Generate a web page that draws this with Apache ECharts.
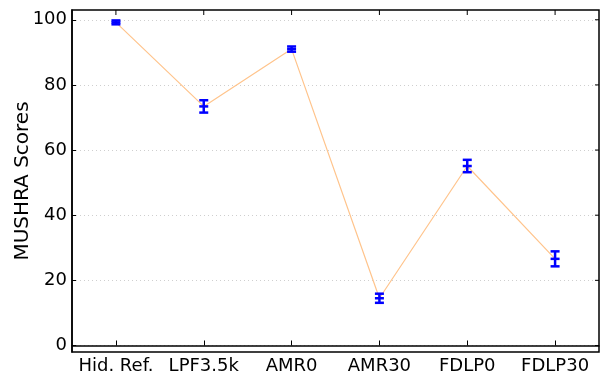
<!DOCTYPE html>
<html><head><meta charset="utf-8">
<script src="https://cdn.jsdelivr.net/npm/echarts@6/dist/echarts.min.js"></script>
<style>html,body{margin:0;padding:0;background:#fff}#c{width:604px;height:376px}</style>
</head><body><div id="c"></div>
<script>
var categories = ['Hid. Ref.', 'LPF3.5k', 'AMR0', 'AMR30', 'FDLP0', 'FDLP30'];
var means = [99.2, 73.4, 91.0, 14.5, 55.1, 26.6];
var errors = [0.6, 1.9, 0.8, 1.4, 1.9, 2.3];
var yTicks = [0, 20, 40, 60, 80, 100];

var errData = categories.map(function (c, i) { return [i, means[i] - errors[i], means[i] + errors[i], means[i]]; });
var font = 'DejaVu Sans, sans-serif';
var chart = echarts.init(document.getElementById('c'));
chart.setOption({
  animation: false,
  grid: { left: 72, right: 5, top: 10, bottom: 24, outerBoundsMode: 'none', containLabel: false,
          show: true, borderColor: '#000', borderWidth: 1.5, backgroundColor: 'transparent' },
  xAxis: [{
    type: 'category', data: categories, boundaryGap: true,
    axisLine: { show: true, lineStyle: { color: '#000', width: 1.5 } },
    axisTick: { show: true, alignWithLabel: true, inside: true, length: 5, lineStyle: { color: '#000' } },
    axisLabel: { color: '#000', fontSize: 18, fontFamily: font, margin: 5, interval: 0, hideOverlap: false },
    splitLine: { show: false }
  }],
  yAxis: [{
    type: 'value', min: -2, max: 103,
    name: 'MUSHRA Scores', nameLocation: 'middle', nameGap: 39, nameMoveOverlap: false,
    nameTextStyle: { color: '#000', fontSize: 20, fontFamily: font },
    axisLine: { show: true, onZero: false, lineStyle: { color: '#000', width: 1.5 } },
    axisTick: { show: true, inside: true, length: 4, customValues: yTicks, lineStyle: { color: '#000' } },
    axisLabel: { customValues: yTicks, color: '#000', fontSize: 18, fontFamily: font, margin: 5 },
    splitLine: { show: true, lineStyle: { color: '#cfcfcf', type: [1, 3], width: 1 } }
  }],
  series: [{
    type: 'line', data: means, symbol: 'none',
    lineStyle: { color: '#ffc48c', width: 1.2 }, z: 2
  }, {
    type: 'custom', data: errData, z: 3,
    renderItem: function (params, api) {
      var x = api.value(0);
      var lo = api.coord([x, api.value(1)]);
      var hi = api.coord([x, api.value(2)]);
      var m = api.coord([x, api.value(3)]);
      var top = params.coordSys.y;
      var w = 4.5;
      var st = { stroke: '#0000ff', lineWidth: 2.5, fill: null };
      return { type: 'group', children: [
        { type: 'line', shape: { x1: lo[0], y1: top, x2: lo[0], y2: top + 5 }, style: { stroke: '#000', lineWidth: 1 } },
        { type: 'line', shape: { x1: lo[0], y1: lo[1], x2: hi[0], y2: hi[1] }, style: st },
        { type: 'line', shape: { x1: lo[0] - w, y1: lo[1], x2: lo[0] + w, y2: lo[1] }, style: st },
        { type: 'line', shape: { x1: hi[0] - w, y1: hi[1], x2: hi[0] + w, y2: hi[1] }, style: st },
        { type: 'line', shape: { x1: m[0] - w, y1: m[1], x2: m[0] + w, y2: m[1] }, style: st }
      ] };
    }
  }, {
    type: 'custom', data: yTicks, z: 4, silent: true,
    renderItem: function (params, api) {
      var p = api.coord([0, api.value(0)]);
      var right = params.coordSys.x + params.coordSys.width;
      return { type: 'line', shape: { x1: right - 4, y1: p[1], x2: right, y2: p[1] }, style: { stroke: '#000', lineWidth: 1 } };
    },
    encode: { y: 0 }
  }]
});
</script></body></html>
